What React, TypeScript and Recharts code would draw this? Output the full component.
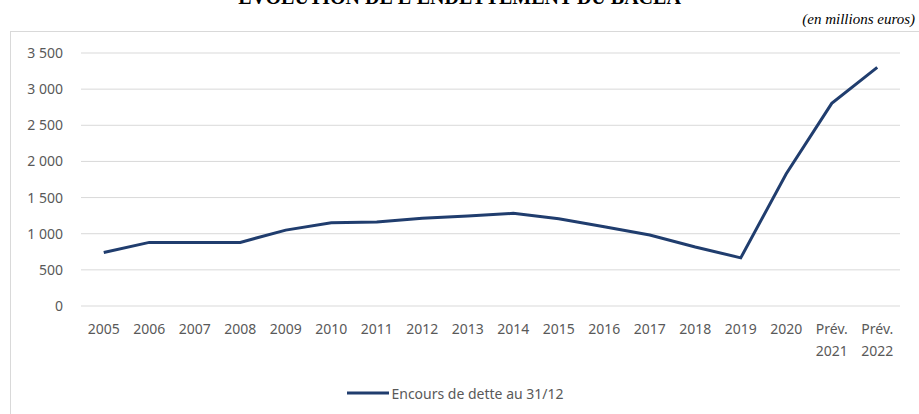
import React from 'react';
import { LineChart, Line, XAxis, YAxis, CartesianGrid, Legend } from 'recharts';

// Encours de dette au 31/12, en millions d'euros
const years = [
  '2005', '2006', '2007', '2008', '2009', '2010', '2011', '2012', '2013',
  '2014', '2015', '2016', '2017', '2018', '2019', '2020', 'Prév. 2021', 'Prév. 2022',
];
const debt = [
  740, 880, 880, 880, 1050, 1150, 1162, 1213, 1245,
  1282, 1207, 1097, 982, 816, 666, 1830, 2804, 3302,
];
const yTicks = [0, 500, 1000, 1500, 2000, 2500, 3000, 3500];

const data = years.map((year, i) => ({ year, debt: debt[i] }));

const FONT = '"Noto Sans", sans-serif';
const GREY = '#595959';
const NAVY = '#203d6e';

const fmt = (v: number) => String(v).replace(/\B(?=(\d{3})+(?!\d))/g, ' ');

const YearTick = (props: any) => {
  const { x, y, payload } = props;
  const parts = String(payload.value).split(' ');
  return (
    <text x={x} y={y} textAnchor="middle" fill={GREY} fontSize={14} fontFamily={FONT}>
      {parts.map((p: string, i: number) => (
        <tspan key={i} x={x} dy={i === 0 ? 20 : 22}>{p}</tspan>
      ))}
    </text>
  );
};

const LegendBox = () => (
  <div style={{ display: 'flex', justifyContent: 'center', alignItems: 'center', fontFamily: FONT, fontSize: 14, color: GREY, height: 20 }}>
    <svg width={42} height={6} style={{ marginRight: 2 }}>
      <line x1={0} y1={3} x2={42} y2={3} stroke={NAVY} strokeWidth={3} />
    </svg>
    <span>Encours de dette au 31/12</span>
  </div>
);

const App: React.FC = () => {
  return (
    <div style={{ position: 'fixed', left: 0, top: 0, width: 919, height: 414, background: '#fff', overflow: 'hidden' }}>
      <div style={{ position: 'absolute', top: -14, left: 0, width: 919, textAlign: 'center', fontFamily: '"Liberation Serif", serif', fontWeight: 'bold', fontSize: 20, lineHeight: '23px', color: '#000', whiteSpace: 'nowrap' }}>
        ÉVOLUTION DE L'ENDETTEMENT DU BACEA
      </div>
      <div style={{ position: 'absolute', top: 11, right: 4, fontFamily: '"Liberation Serif", serif', fontStyle: 'italic', fontSize: 15, lineHeight: '17px', color: '#000' }}>
        (en millions euros)
      </div>
      <div style={{ position: 'absolute', left: 10, top: 31, width: 920, height: 400, border: '1px solid #d9d9d9' }} />
      <div style={{ position: 'absolute', left: 0, top: 0 }}>
        <LineChart width={919} height={414} data={data} margin={{ top: 53, right: 19, bottom: 0, left: 11 }}>
          <CartesianGrid vertical={false} stroke="#d9d9d9" strokeWidth={1} />
          <XAxis
            dataKey="year"
            axisLine={false}
            tickLine={false}
            interval={0}
            height={58}
            padding={{ left: 22.75, right: 22.75 }}
            tick={<YearTick />}
          />
          <YAxis
            domain={[0, 3500]}
            ticks={yTicks}
            axisLine={false}
            tickLine={false}
            width={70}
            tickMargin={10}
            tickFormatter={fmt}
            tick={{ fill: GREY, fontSize: 14, fontFamily: FONT, dx: -2 }}
          />
          <Legend verticalAlign="bottom" height={50} content={<LegendBox />} wrapperStyle={{ top: 383, bottom: 'auto' }} />
          <Line
            type="linear"
            dataKey="debt"
            name="Encours de dette au 31/12"
            stroke={NAVY}
            strokeWidth={3}
            dot={false}
            isAnimationActive={false}
          />
        </LineChart>
      </div>
    </div>
  );
};

export default App;
